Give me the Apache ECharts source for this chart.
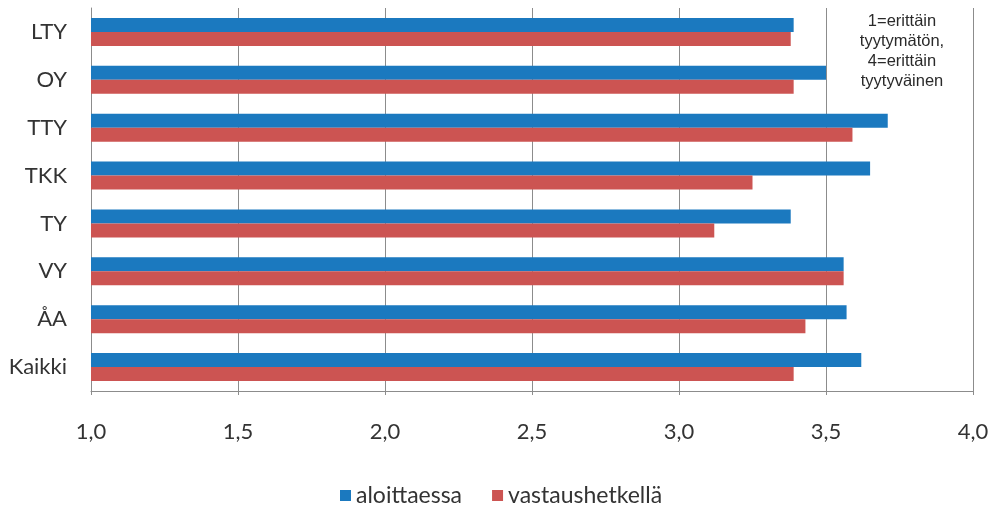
<!DOCTYPE html>
<html>
<head>
<meta charset="utf-8">
<script src="https://cdn.jsdelivr.net/npm/echarts@6/dist/echarts.min.js"></script>
<style>
  html, body { margin: 0; padding: 0; background: #fff; }
  #chart { width: 995px; height: 508px; }
</style>
</head>
<body>
<div id="chart"></div>
<script>
// data
const categories = ['LTY', 'OY', 'TTY', 'TKK', 'TY', 'VY', 'ÅA', 'Kaikki']
const aloittaessa = [3.39, 3.50, 3.71, 3.65, 3.38, 3.56, 3.57, 3.62]
const vastaushetkella = [3.38, 3.39, 3.59, 3.25, 3.12, 3.56, 3.43, 3.39]
const seriesNames = ['aloittaessa', 'vastaushetkellä']
const note = '1=erittäin\ntyytymätön,\n4=erittäin\ntyytyväinen'

const chart = echarts.init(document.getElementById('chart'), null, { renderer: 'canvas' })

const labelFont = 'Lato, "Open Sans", sans-serif'

const option = {
  animation: false,
  color: ['#1b79bf', '#cc5452'],
  grid: { left: 91, right: 22, top: 8, bottom: 117 },
  legend: {
    bottom: -4,
    left: 335,
    itemWidth: 11,
    itemHeight: 11,
    itemGap: 30,
    icon: 'rect',
    textStyle: { fontSize: 23, color: '#333', fontFamily: labelFont },
    data: seriesNames
  },
  xAxis: {
    type: 'value',
    min: 1,
    max: 4,
    interval: 0.5,
    axisLine: { show: true, lineStyle: { color: '#8c8c8c' } },
    axisTick: { show: true, length: 4, lineStyle: { color: '#8c8c8c' } },
    splitLine: { show: true, lineStyle: { color: '#8c8c8c', width: 1 } },
    axisLabel: {
      margin: 30,
      fontSize: 22,
      color: '#333',
      fontFamily: labelFont,
      formatter: v => v.toFixed(1).replace('.', ',')
    }
  },
  yAxis: {
    type: 'category',
    inverse: true,
    data: categories,
    axisLine: { show: true, lineStyle: { color: '#8c8c8c' } },
    axisTick: { show: false },
    axisLabel: {
      margin: 24,
      fontSize: 22,
      color: '#333',
      fontFamily: labelFont
    }
  },
  graphic: [{
    type: 'text',
    x: 902,
    y: 11,
    style: {
      text: note,
      align: 'center',
      verticalAlign: 'top',
      fontSize: 16.5,
      lineHeight: 20,
      fill: '#2a2a2a',
      fontFamily: '"Liberation Sans", Arial, sans-serif'
    }
  }],
  series: [
    {
      name: seriesNames[0],
      type: 'bar',
      data: aloittaessa,
      barWidth: 14,
      barGap: '0%'
    },
    {
      name: seriesNames[1],
      type: 'bar',
      data: vastaushetkella,
      barWidth: 14,
      barGap: '0%'
    }
  ]
}

chart.setOption(option)
</script>
</body>
</html>
